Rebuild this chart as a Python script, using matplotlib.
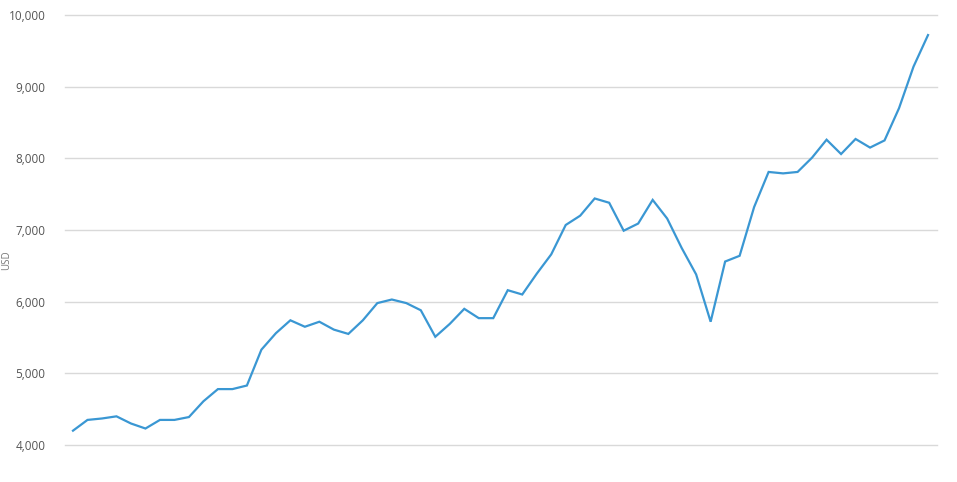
import numpy as np
import matplotlib
matplotlib.use('Agg')
import matplotlib.pyplot as plt
from matplotlib.ticker import FuncFormatter

# values (USD)
values = [4200, 4350, 4370, 4400, 4300, 4230, 4350, 4350, 4390, 4610,
          4780, 4780, 4830, 5330, 5560, 5740, 5650, 5720, 5610, 5550,
          5740, 5980, 6030, 5980, 5880, 5510, 5690, 5900, 5770, 5770,
          6160, 6100, 6390, 6660, 7070, 7200, 7440, 7380, 6990, 7090,
          7420, 7160, 6750, 6380, 5720, 6560, 6640, 7320, 7810, 7790,
          7810, 8010, 8260, 8060, 8270, 8150, 8250, 8700, 9280, 9720]
y_ticks = [4000, 5000, 6000, 7000, 8000, 9000, 10000]
y_label = 'USD'

plt.rcParams['font.family'] = ['Open Sans', 'DejaVu Sans']

fig = plt.figure(figsize=(9.57, 4.82), dpi=100)
ax = fig.add_axes([65 / 957, 37 / 482, 872 / 957, 430 / 482])

x = np.arange(len(values))
ax.plot(x, values, color='#3a97d3', linewidth=1.6, solid_joinstyle='miter', zorder=3)

ax.set_ylim(4000, 10000)
ax.set_xlim(-0.552, 59.62)
ax.set_yticks(y_ticks)
ax.yaxis.set_major_formatter(FuncFormatter(lambda v, p: f'{int(v):,}'))
ax.set_xticks([])
ax.grid(axis='y', color='#d9d9d9', linewidth=1.0)
for gl in ax.get_ygridlines():
    gl.set_clip_on(False)
ax.set_axisbelow(True)
for s in ax.spines.values():
    s.set_visible(False)
ax.tick_params(axis='y', length=0, pad=14, labelsize=8.5, labelcolor='#555555')

# y label hugs the left edge, as in the reference
fig.text(0.001, 0.46, y_label, rotation=90, fontsize=7, color='#777777',
         ha='left', va='center')

fig.savefig('out.png', dpi=100)
